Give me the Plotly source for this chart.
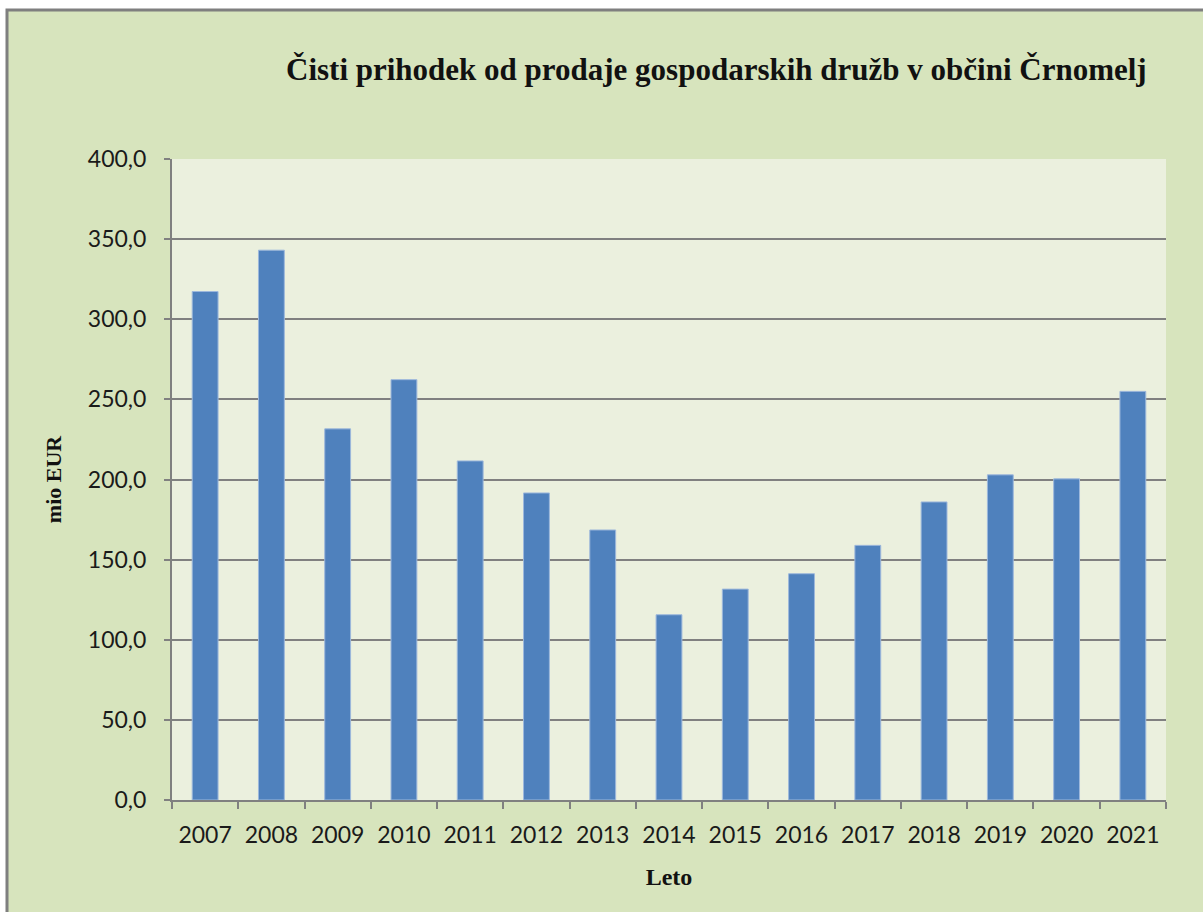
import plotly.graph_objects as go

years = ["2007", "2008", "2009", "2010", "2011", "2012", "2013", "2014",
         "2015", "2016", "2017", "2018", "2019", "2020", "2021"]
values = [317.3, 343.1, 231.6, 262.3, 211.6, 191.6, 168.5, 115.6,
          131.6, 141.2, 158.9, 186.0, 202.9, 200.4, 255.0]
y_ticks = [0, 50, 100, 150, 200, 250, 300, 350, 400]
y_tick_labels = ["0,0", "50,0", "100,0", "150,0", "200,0", "250,0", "300,0", "350,0", "400,0"]

W, H = 1203, 912
L, R, T, B = 172, 1166, 159, 800


def px_x(px):
    return (px - L) / (R - L)


def px_y(py):
    return (B - py) / (B - T)


fig = go.Figure(go.Bar(
    x=years, y=values,
    marker=dict(color="#4f81bd", line=dict(color="#9db8dc", width=1)),
    width=0.39,
))

grid = "#808080"
fig.update_layout(
    width=W, height=H,
    margin=dict(l=L, r=W - R, t=T, b=H - B, pad=0),
    paper_bgcolor="#d7e4bd",
    plot_bgcolor="#ebf0de",
    showlegend=False,
    font=dict(family="Lato", color="#1a1a1a"),
    xaxis=dict(
        type="category",
        showline=True, linecolor=grid, linewidth=2,
        ticks="outside", tickson="boundaries", ticklen=7, tickwidth=2, tickcolor=grid,
        tickfont=dict(size=23, family="Lato", color="#1a1a1a"),
        ticklabelstandoff=13,
        showgrid=False,
        title=dict(text="<b>Leto</b>", font=dict(family="Liberation Serif", size=24, color="#111"), standoff=22),
    ),
    yaxis=dict(
        range=[0, 400],
        tickvals=y_ticks, ticktext=y_tick_labels,
        showline=True, linecolor=grid, linewidth=2,
        ticks="outside", ticklen=6, tickwidth=2, tickcolor=grid,
        tickfont=dict(size=23, family="Lato", color="#1a1a1a"),
        ticklabelstandoff=13,
        showgrid=True, gridcolor=grid, gridwidth=2,
        zeroline=False,
        title=dict(text="<b>mio EUR</b>", font=dict(family="Liberation Serif", size=22, color="#111"), standoff=20),
    ),
    shapes=[
        dict(type="rect", xref="paper", yref="paper", layer="below",
             x0=px_x(-10), x1=px_x(1220), y0=px_y(10), y1=px_y(-10),
             fillcolor="white", line=dict(width=0)),
        dict(type="rect", xref="paper", yref="paper", layer="below",
             x0=px_x(-10), x1=px_x(7), y0=px_y(925), y1=px_y(-10),
             fillcolor="white", line=dict(width=0)),
        dict(type="rect", xref="paper", yref="paper", layer="above",
             x0=px_x(7), x1=px_x(1215), y0=px_y(925), y1=px_y(10),
             fillcolor="rgba(0,0,0,0)", line=dict(color="#7f7f7f", width=3)),
    ],
    annotations=[dict(
        text="<b>Čisti prihodek od prodaje gospodarskih družb v občini Črnomelj</b>",
        xref="paper", yref="paper", x=px_x(716), y=px_y(70),
        xanchor="center", yanchor="middle", showarrow=False,
        font=dict(family="Liberation Serif", size=31, color="#111"),
    )],
)

fig.write_html("out.html", config={"displayModeBar": False},
               post_script="document.body.style.margin='0';")
